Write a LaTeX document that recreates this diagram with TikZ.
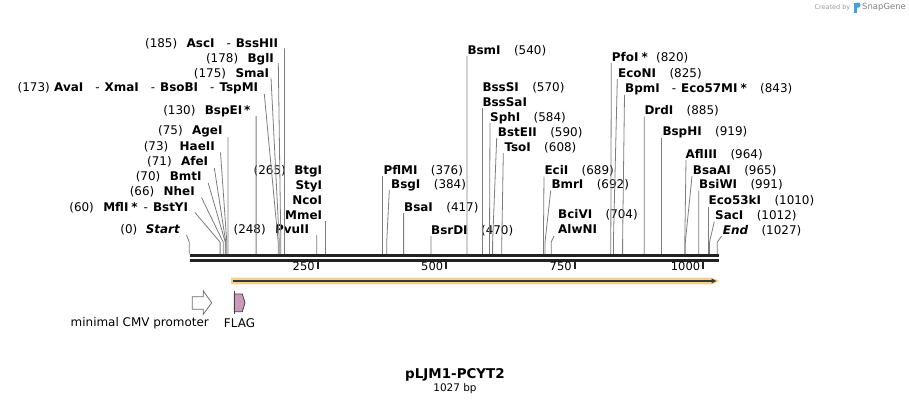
\documentclass[tikz,border=0pt]{standalone}
\usepackage{fontspec}
\setmainfont{DejaVu Sans}
\usetikzlibrary{arrows.meta}
\definecolor{cutcol}{RGB}{125,125,125}
\definecolor{seqcol}{RGB}{34,34,34}
\definecolor{orfcol}{RGB}{252,208,132}
\definecolor{flagcol}{RGB}{204,153,187}
\definecolor{sgblue}{RGB}{70,160,220}
\newcommand\dsh{\hspace{12bp}{\mdseries -}\hspace{5bp}}
\newcommand\cutto[2]{\draw[cut] #1 -- ([yshift=12bp]#2) -- (#2);}
\begin{document}
\begin{tikzpicture}[x=1bp,y=-1bp,
  enz/.style={font=\fontsize{12}{13}\selectfont\bfseries, inner sep=0pt, text height=8.6bp, text depth=0pt},
  posn/.style={font=\fontsize{12}{13}\selectfont, inner sep=0pt, text height=8.6bp, text depth=0pt},
  cut/.style={draw=cutcol, line width=0.8bp},
  seq/.style={draw=seqcol, line width=3bp},
  tickmark/.style={draw=seqcol, line width=1.8bp},
  ticklab/.style={font=\fontsize{11.5}{12}\selectfont, inner sep=0pt, anchor=east},
  featlab/.style={font=\fontsize{12}{13}\selectfont, inner sep=0pt},
]
\useasboundingbox (0,0) rectangle (909,404);
\fill[white] (0,0) rectangle (909,404);

% ---- sites on the sequence ----
\foreach \n/\x in {0/189.3,60/220.1,66/223.2,70/225.3,71/225.8,73/226.8,75/227.9,130/256.1,173/278.2,175/279.3,178/280.8,185/284.4,248/316.8,265/325.5,376/382.6,384/386.7,417/403.6,470/430.9,540/466.9,570/482.3,584/489.5,590/492.6,608/501.8,689/543.4,692/545.0,704/551.2,820/610.8,825/613.4,843/622.6,885/644.2,919/661.7,964/684.8,965/685.3,991/698.7,1010/708.4,1012/709.5,1027/717.2}
  {\coordinate (s\n) at (\x,254.2);}

% ---- sequence ----
\coordinate (seqA1) at (190,255.7); \coordinate (seqA2) at (719,255.7);
\coordinate (seqB1) at (190,260.7); \coordinate (seqB2) at (719,260.7);
\draw[seq] (seqA1) -- (seqA2);
\draw[seq] (seqB1) -- (seqB2);
\foreach \v/\x in {250/317.8,500/446.3,750/574.8,1000/703.3}{
  \coordinate (tk\v) at (\x,262);
  \draw[tickmark] (tk\v) -- ++(0,6.5);
  \node[ticklab] (tl\v) at (\x-3,266.5) {\v};
}

% ---- left labels ----
\node[enz,anchor=east] (AscI) at (278.3,43.3) {AscI\dsh BssHII};
\node[posn,anchor=east] (pAscI) at ([xshift=-9bp]AscI.west) {(185)};
\node[enz,anchor=east] (BglI) at (274,58.5) {BglI};
\node[posn,anchor=east] (pBglI) at ([xshift=-9bp]BglI.west) {(178)};
\node[enz,anchor=east] (SmaI) at (269.3,72.7) {SmaI};
\node[posn,anchor=east] (pSmaI) at ([xshift=-9bp]SmaI.west) {(175)};
\node[enz,anchor=east] (AvaI) at (258.3,87.3) {AvaI\dsh XmaI\dsh BsoBI\dsh TspMI};
\node[posn,anchor=east] (pAvaI) at ([xshift=-4bp]AvaI.west) {(173)};
\node[enz,anchor=east] (BspEI) at (250.7,110) {BspEI\hspace{2bp}*};
\node[posn,anchor=east] (pBspEI) at ([xshift=-9bp]BspEI.west) {(130)};
\node[enz,anchor=east] (AgeI) at (222.7,130.5) {AgeI};
\node[posn,anchor=east] (pAgeI) at ([xshift=-9bp]AgeI.west) {(75)};
\node[enz,anchor=east] (HaeII) at (215,146) {HaeII};
\node[posn,anchor=east] (pHaeII) at ([xshift=-11bp]HaeII.west) {(73)};
\node[enz,anchor=east] (AfeI) at (208.3,161.5) {AfeI};
\node[posn,anchor=east] (pAfeI) at ([xshift=-9bp]AfeI.west) {(71)};
\node[enz,anchor=east] (BmtI) at (201.7,176.5) {BmtI};
\node[posn,anchor=east] (pBmtI) at ([xshift=-9bp]BmtI.west) {(70)};
\node[enz,anchor=east] (NheI) at (195,191.5) {NheI};
\node[posn,anchor=east] (pNheI) at ([xshift=-9bp]NheI.west) {(66)};
\node[enz,anchor=east] (MflI) at (188.3,206.8) {MflI\hspace{3bp}*\hspace{6bp}{\mdseries -}\hspace{5bp}BstYI};
\node[posn,anchor=east] (pMflI) at ([xshift=-9bp]MflI.west) {(60)};
\node[enz,anchor=east] (Start) at (180,229.5) {\itshape Start};
\node[posn,anchor=east] (pStart) at ([xshift=-8bp]Start.west) {(0)};

\node[enz,anchor=east] (BtgI) at (322.3,170) {BtgI};
\node[posn,anchor=east] (pBtgI) at ([xshift=-8bp]BtgI.west) {(265)};
\node[enz,anchor=east] (StyI) at (322.3,185) {StyI};
\node[enz,anchor=east] (NcoI) at (322.3,200) {NcoI};
\node[enz,anchor=east] (MmeI) at (322.3,215) {MmeI};
\node[enz,anchor=east] (PvuII) at (309.3,229.5) {PvuII};
\node[posn,anchor=east] (pPvuII) at ([xshift=-9bp]PvuII.west) {(248)};

\cutto{([shift={(6.1,5)}]AscI.east)}{s185}
\cutto{([shift={(4.3,4.5)}]BglI.east)}{s178}
\cutto{([shift={(1.7,5.3)}]SmaI.east)}{s175}
\cutto{([shift={(6,6.7)}]AvaI.east)}{s173}
\cutto{([shift={(5.4,6)}]BspEI.east)}{s130}
\cutto{([shift={(5.2,6.5)}]AgeI.east)}{s75}
\cutto{([shift={(5.5,6.5)}]HaeII.east)}{s73}
\cutto{([shift={(6,6.5)}]AfeI.east)}{s71}
\cutto{([shift={(6.5,6.5)}]BmtI.east)}{s70}
\cutto{([shift={(6.5,6)}]NheI.east)}{s66}
\cutto{([shift={(6.5,5.5)}]MflI.east)}{s60}
\cutto{([shift={(6.5,5.5)}]Start.east)}{s0}
\cutto{([shift={(3.2,6)}]MmeI.east)}{s265}
\cutto{([shift={(7.5,5.5)}]PvuII.east)}{s248}

% ---- right labels ----
\newcommand\rlab[5]{%
  \node[enz,anchor=west] (#1) at (#2,#3) {#4};
  \node[posn,anchor=west] (p#1) at ([xshift=13bp]#1.east) {#5};}
\rlab{PflMI}{383.3}{170}{PflMI}{(376)}
\rlab{BsgI}{391}{184.3}{BsgI}{(384)}
\rlab{BsaI}{404}{207.3}{BsaI}{(417)}
\rlab{BsrDI}{431}{230}{BsrDI}{(470)}
\rlab{BsmI}{467.3}{50}{BsmI}{(540)}
\rlab{BssSI}{482.3}{87.3}{BssSI}{(570)}
\node[enz,anchor=west] (BssSaI) at (482.3,101.7) {BssSaI};
\rlab{SphI}{490}{117.3}{SphI}{(584)}
\rlab{BstEII}{497.7}{131.7}{BstEII}{(590)}
\rlab{TsoI}{504.3}{146.7}{TsoI}{(608)}
\rlab{EciI}{544.3}{170}{EciI}{(689)}
\rlab{BmrI}{551.3}{184.3}{BmrI}{(692)}
\rlab{BciVI}{558}{214.3}{BciVI}{(704)}
\node[enz,anchor=west] (AlwNI) at (558,229.3) {AlwNI};
\node[enz,anchor=west] (PfoI) at (611.7,56.7) {PfoI\hspace{3bp}*};
\node[posn,anchor=west] (pPfoI) at ([xshift=8bp]PfoI.east) {(820)};
\rlab{EcoNI}{618}{72.7}{EcoNI}{(825)}
\node[enz,anchor=west] (BpmI) at (625,88.3) {BpmI\dsh Eco57MI\hspace{3bp}*};
\node[posn,anchor=west] (pBpmI) at ([xshift=13bp]BpmI.east) {(843)};
\rlab{DrdI}{644.3}{110}{DrdI}{(885)}
\rlab{BspHI}{662.3}{131}{BspHI}{(919)}
\rlab{AflIII}{685.5}{154}{AflIII}{(964)}
\rlab{BsaAI}{692.7}{170}{BsaAI}{(965)}
\rlab{BsiWI}{699}{184.3}{BsiWI}{(991)}
\rlab{EcofiftythreekI}{708.4}{200}{Eco53kI}{(1010)}
\rlab{SacI}{715}{215}{SacI}{(1012)}
\node[enz,anchor=west] (End) at (722.7,230) {\itshape End};
\node[posn,anchor=west] (pEnd) at ([xshift=13bp]End.east) {(1027)};

\cutto{([shift={(-0.7,6)}]PflMI.west)}{s376}
\cutto{([shift={(-1.7,5.7)}]BsgI.west)}{s384}
\cutto{([shift={(-0.4,5.7)}]BsaI.west)}{s417}
\cutto{([shift={(-0.1,6)}]BsrDI.west)}{s470}
\cutto{([shift={(-0.4,6)}]BsmI.west)}{s540}
\cutto{([shift={(0,6.3)}]BssSaI.west)}{s570}
\cutto{([shift={(0,5.7)}]SphI.west)}{s584}
\cutto{([shift={(-1,6.3)}]BstEII.west)}{s590}
\cutto{([shift={(-1,6.3)}]TsoI.west)}{s608}
\cutto{([shift={(-0.3,6.5)}]EciI.west)}{s689}
\cutto{([shift={(-0.6,6.2)}]BmrI.west)}{s692}
\cutto{([shift={(-4,6.7)}]AlwNI.west)}{s704}
\cutto{([shift={(-0.4,6.3)}]PfoI.west)}{s820}
\cutto{([shift={(-0.7,6.3)}]EcoNI.west)}{s825}
\cutto{([shift={(-0.5,6.7)}]BpmI.west)}{s843}
\cutto{([shift={(-0.1,6.5)}]DrdI.west)}{s885}
\cutto{([shift={(-0.6,6.5)}]BspHI.west)}{s919}
\cutto{([shift={(0.5,6)}]AflIII.west)}{s964}
\cutto{([shift={(-0.7,6)}]BsaAI.west)}{s965}
\cutto{([shift={(-0.3,6.2)}]BsiWI.west)}{s991}
\cutto{([shift={(0,6.5)}]EcofiftythreekI.west)}{s1010}
\cutto{([shift={(-0.7,6.5)}]SacI.west)}{s1012}
\cutto{([shift={(-1,6)}]End.west)}{s1027}

% ---- ORF ----
\fill[orfcol] (231,277.6) -- (712.5,277.6) -- (719,281) -- (712.5,284.4) -- (231,284.4) -- cycle;
\coordinate (orfA) at (232.5,281); \coordinate (orfB) at (716.5,281);
\draw[draw=seqcol!90, line width=1.4bp, -{Triangle[length=5bp,width=4.5bp]}] (orfA) -- (orfB);

% ---- features ----
\draw[fill=white, draw={rgb,255:red,110;green,110;blue,110}, line width=0.8bp, line join=miter]
  (192.3,296.7) -- (203.3,296.7) -- (203.3,291) -- (211.7,302.7) -- (203.3,314.3) -- (203.3,309.3) -- (192.3,309.3) -- cycle;
\draw[fill=flagcol, draw={rgb,255:red,68;green,68;blue,68}, line width=0.8bp, line join=miter]
  (234.3,294) -- (242.3,294) -- (245,302.7) -- (242.3,311.7) -- (234.3,311.7) -- cycle;
\coordinate (flagT) at (234.3,291); \coordinate (flagB) at (234.3,314.3);
\draw[draw={rgb,255:red,68;green,68;blue,68}, line width=1bp] (flagT) -- (flagB);
\node[featlab, anchor=east] (cmvlab) at (209,323.3) {minimal CMV promoter};
\node[featlab] (flaglab) at (239.5,323.3) {FLAG};

% ---- title ----
\node[font=\fontsize{13.5}{15}\selectfont\bfseries, inner sep=0pt, anchor=base] (title) at (455,378) {pLJM1-PCYT2};
\node[font=\fontsize{10.5}{12}\selectfont, inner sep=0pt, anchor=base] (bplen) at (455,391.5) {1027 bp};

% ---- credit ----
\node[font=\fontsize{6.5}{7}\selectfont, text=black!40, inner sep=0pt, anchor=east] (credit) at (850.5,7.5) {Created by};
\fill[sgblue] (853.5,2.5) rectangle (856.5,12.5);
\fill[sgblue] (856.5,2.5) -- (859,2.5) .. controls (861,2.5) and (861,7.5) .. (859,7.5) -- (856.5,7.5) -- cycle;
\node[font=\fontsize{8.5}{9}\selectfont, text=black!50, inner sep=0pt, anchor=west] (sgname) at (862,7.5) {SnapGene};
\end{tikzpicture}
\end{document}
